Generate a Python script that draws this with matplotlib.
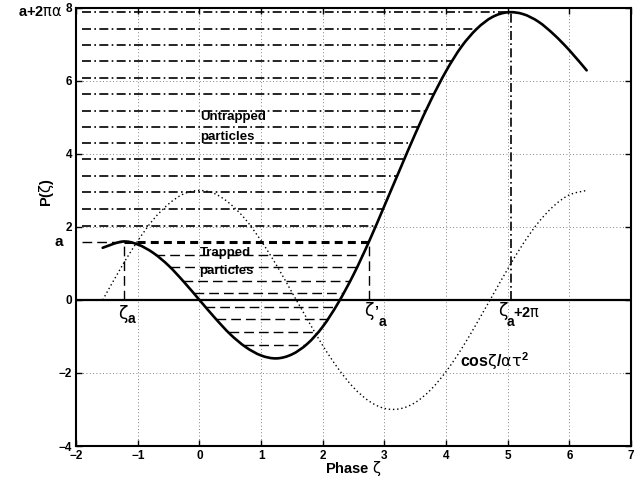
import numpy as np
import matplotlib
matplotlib.use('Agg')
import matplotlib.pyplot as plt
from matplotlib.path import Path
from matplotlib.patches import PathPatch

# ---------------- data ----------------
zeta = [-1.57, -1.25, -1.0, -0.75, -0.5, -0.25, 0.0, 0.25, 0.5, 0.75,
        1.0, 1.25, 1.5, 1.75, 2.0, 2.25, 2.5, 2.75, 3.0, 3.25, 3.5, 3.75,
        4.0, 4.25, 4.5, 4.75, 5.0, 5.25, 5.5, 5.75, 6.0, 6.28]
p_zeta = [1.43, 1.60, 1.52, 1.29, 0.94, 0.49, 0.00, -0.49, -0.94, -1.29,
          -1.52, -1.60, -1.49, -1.20, -0.73, -0.08, 0.70, 1.60, 2.58, 3.57, 4.55, 5.46,
          6.27, 6.94, 7.43, 7.75, 7.88, 7.83, 7.62, 7.27, 6.84, 6.29]
cos_curve = [0.00, 0.95, 1.62, 2.20, 2.63, 2.91, 3.00, 2.91, 2.63, 2.20,
             1.62, 0.95, 0.21, -0.53, -1.25, -1.88, -2.40, -2.77, -2.97, -2.98, -2.81, -2.46,
             -1.96, -1.34, -0.63, 0.11, 0.85, 1.54, 2.13, 2.58, 2.88, 3.00]

zeta_a = -1.23
zeta_a_prime = 2.75
zeta_a_2pi = 5.05
a_level = 1.6
top_level = 7.88
untrapped_levels = [7.88, 7.43, 6.98, 6.54, 6.09, 5.64, 5.19, 4.74, 4.30,
                    3.85, 3.40, 2.95, 2.50, 2.04]
trapped_levels = [1.24, 0.89, 0.53, 0.18, -0.18, -0.53, -0.89, -1.24]
line_start = -1.9

xticks = [-2, -1, 0, 1, 2, 3, 4, 5, 6, 7]
yticks = [-4, -2, 0, 2, 4, 6, 8]

# ---------------- style ----------------
plt.rcParams['font.family'] = ['Liberation Sans', 'DejaVu Sans']
plt.rcParams['mathtext.fontset'] = 'custom'
plt.rcParams['mathtext.rm'] = 'DejaVu Sans:weight=normal'
plt.rcParams['mathtext.it'] = 'DejaVu Sans:italic:weight=normal'
plt.rcParams['mathtext.bf'] = 'Liberation Sans:weight=bold'
plt.rcParams['mathtext.default'] = 'rm'

GREEK = ['DejaVu Sans']


def smooth_path(xs, ys):
    pts = np.column_stack([xs, ys]).astype(float)
    n = len(pts)
    verts = [pts[0]]
    codes = [Path.MOVETO]
    for i in range(n - 1):
        p0 = pts[i - 1] if i > 0 else pts[i]
        p1 = pts[i]
        p2 = pts[i + 1]
        p3 = pts[i + 2] if i + 2 < n else pts[i + 1]
        verts += [p1 + (p2 - p0) / 6.0, p2 - (p3 - p1) / 6.0, p2]
        codes += [Path.CURVE4] * 3
    return Path(verts, codes)


fig = plt.figure(figsize=(6.4, 4.83), dpi=100)
ax = fig.add_axes([0.119, 0.0766, 0.867, 0.907])

Z = np.array(zeta)
P = np.array(p_zeta)
left_mask = (Z >= -1.25) & (Z <= 1.25)
right_mask = (Z >= 1.25) & (Z <= 5.0)
ZL, PL = Z[left_mask][::-1], P[left_mask][::-1]
ZR, PR = Z[right_mask], P[right_mask]

dashdot = (5.4, 2.0, 1.0, 2.0)
dashed = (7.0, 3.6)

# untrapped dash-dot lines
for lv in untrapped_levels:
    xe = np.interp(lv, PR, ZR)
    ax.plot([line_start, xe], [lv, lv], color='black', lw=1.2, dashes=dashdot, zorder=3)

# level a
ax.plot([line_start, zeta_a], [a_level, a_level], color='black', lw=1.0,
        dashes=dashed, zorder=3)
ax.plot([zeta_a, zeta_a_prime], [a_level, a_level], color='black', lw=2.2,
        dashes=(2.6, 1.7), zorder=3)

# trapped dashed lines
for lv in trapped_levels:
    xs = np.interp(lv, PL, ZL)
    xe = np.interp(lv, PR, ZR)
    ax.plot([xs, xe], [lv, lv], color='black', lw=1.0, dashes=dashed, zorder=3)

# vertical markers
ax.plot([zeta_a, zeta_a], [0, a_level], color='black', lw=1.0, dashes=dashed, zorder=3)
ax.plot([zeta_a_prime, zeta_a_prime], [0, a_level], color='black', lw=1.0,
        dashes=dashed, zorder=3)
ax.plot([zeta_a_2pi, zeta_a_2pi], [0, top_level], color='black', lw=1.2,
        dashes=dashdot, zorder=3)

# zero line
ax.axhline(0, color='black', lw=1.6, zorder=4)

# curves
ax.add_patch(PathPatch(smooth_path(zeta, cos_curve), fill=False, edgecolor='black',
                       lw=1.0, linestyle=(0, (1, 2)), zorder=4))
ax.add_patch(PathPatch(smooth_path(zeta, p_zeta), fill=False, edgecolor='black',
                       lw=1.9, zorder=5, capstyle='round', joinstyle='round'))

# axes
ax.set_xlim(-2, 7)
ax.set_ylim(-4, 8)
ax.set_xticks(xticks)
ax.set_yticks(yticks)
ax.tick_params(direction='in', top=True, right=True, length=4, width=1.0,
               labelsize=8.5, pad=3)
for lab in ax.get_xticklabels() + ax.get_yticklabels():
    lab.set_fontweight('bold')
ax.grid(True, color='0.35', linewidth=0.6, linestyle=(0, (1, 3)))
ax.set_axisbelow(True)
for s in ax.spines.values():
    s.set_linewidth(1.5)

ax.set_xlabel(r'Phase $\zeta$', fontsize=10.5, fontweight='bold')
ax.xaxis.set_label_coords(0.5, -0.030)
ax.set_ylabel(r'P($\zeta$)', fontsize=10.5, fontweight='bold')
ax.yaxis.set_label_coords(-0.036, 0.578)

# annotations on the y axis
ax.text(-0.023, a_level, 'a', transform=ax.get_yaxis_transform(), ha='right',
        va='center', fontsize=11, fontweight='bold')
ax.text(-0.024, top_level, r'a+2$\pi\alpha$', transform=ax.get_yaxis_transform(),
        ha='right', va='center', fontsize=10.5, fontweight='bold')

# zeta markers (zeta glyph, then bold subscript placed separately)
def zeta_label(x, y, sub_x, sub_y):
    ax.text(x, y, 'ζ', family=GREEK, fontsize=12.5, ha='left', va='baseline', zorder=6)
    ax.text(sub_x, sub_y, 'a', fontsize=10, fontweight='bold', ha='left',
            va='baseline', zorder=6)

zeta_label(-1.32, -0.51, -1.16, -0.63)
zeta_label(2.674, -0.45, 2.905, -0.71)
ax.text(2.835, -0.42, '’', fontsize=10, fontweight='bold', ha='left', va='baseline', zorder=6)
zeta_label(4.85, -0.45, 4.985, -0.71)
ax.text(5.09, -0.47, r'+2$\pi$', fontsize=10.5, fontweight='bold', ha='left',
        va='baseline', zorder=6)

ax.text(4.23, -1.84, r'cos$\zeta$/$\alpha\tau^\mathbf{2}$', ha='left', va='baseline',
        fontsize=11.5, fontweight='bold', zorder=6)

ax.text(0.01, 5.01, 'Untrapped', ha='left', va='center', fontsize=9.5,
        fontweight='bold', zorder=6)
ax.text(0.01, 4.47, 'particles', ha='left', va='center', fontsize=9.5,
        fontweight='bold', zorder=6)
ax.text(0.0, 1.30, 'Trapped', ha='left', va='center', fontsize=9.5,
        fontweight='bold', zorder=2)
ax.text(0.0, 0.79, 'particles', ha='left', va='center', fontsize=9.5,
        fontweight='bold', zorder=2)

fig.savefig('out.png', dpi=100)
